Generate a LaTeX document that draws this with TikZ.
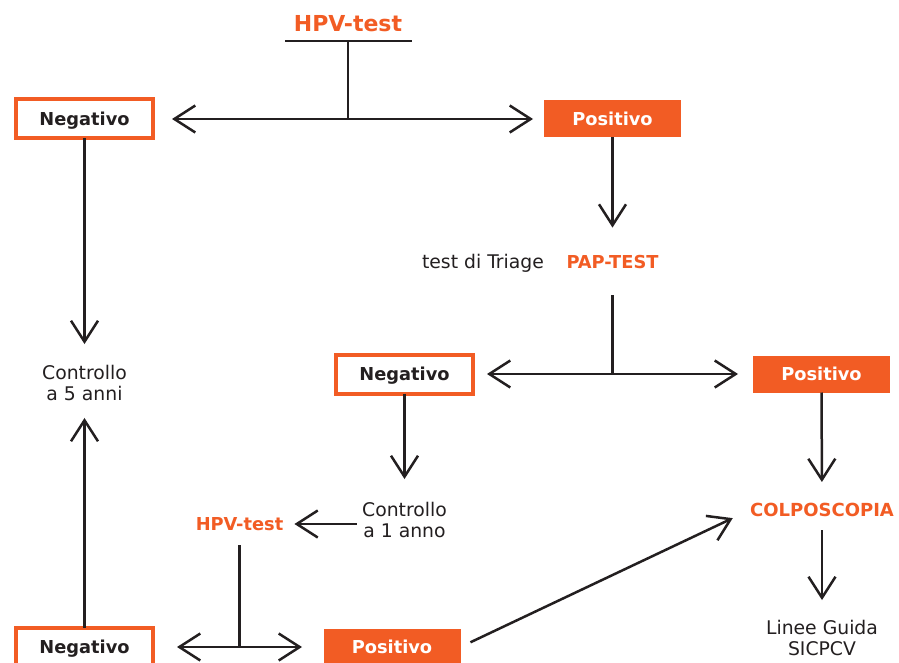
\documentclass[tikz,border=0pt]{standalone}
\usepackage{fontspec}
\setmainfont{DejaVu Sans}
\definecolor{HPVOrange}{RGB}{242, 92, 36}
\definecolor{HPVDark}{RGB}{35, 31, 32}
\usetikzlibrary{arrows.meta, positioning}

\begin{document}
\begin{tikzpicture}[x=1pt, y=-1pt,
    flow/.style={draw=HPVDark, line width=2.5pt},
    tip/.style={flow, -{Straight Barb[length=21pt, width=27pt]}},
    twotip/.style={flow, {Straight Barb[length=21pt, width=27pt]}-{Straight Barb[length=21pt, width=27pt]}},
    negbox/.style={draw=HPVOrange, line width=4pt, fill=white, text=HPVDark,
      minimum width=137pt, minimum height=39pt, inner sep=0pt, outer sep=0pt,
      text height=12.8pt, text depth=0pt,
      font=\fontsize{17.8}{21}\selectfont\bfseries},
    posbox/.style={fill=HPVOrange, text=white,
      minimum width=137pt, minimum height=37pt, inner sep=0pt, outer sep=0pt,
      text height=12.8pt, text depth=0pt,
      font=\fontsize{17.8}{21}\selectfont\bfseries},
    orangetxt/.style={text=HPVOrange, inner sep=0pt, font=\fontsize{17.8}{21}\selectfont\bfseries},
    plaintxt/.style={text=HPVDark, inner sep=0pt, align=center, font=\fontsize{18.8}{21}\selectfont}]
  \clip (0,0) rectangle (899,663);
  \fill[white] (0,0) rectangle (899,663);

  % first level
  \node[orangetxt, font=\fontsize{22}{26}\selectfont\bfseries] (hpv1) at (348,24) {HPV-test};
  \coordinate (ulL) at (285,41);
  \coordinate (ulR) at (412,41);
  \node[negbox] (neg1) at (84.5,119) {Negativo};
  \node[posbox] (pos1) at (612.5,119) {Positivo};
  \draw[flow] (ulL) -- (ulR);
  \draw[flow] (hpv1 |- ulL) -- (hpv1 |- pos1);
  \draw[twotip, shorten <=19pt, shorten >=11pt] (neg1) -- (pos1);

  % triage
  \node[plaintxt, anchor=base] (triage) at (483,268) {test di Triage};
  \node[orangetxt, anchor=base] (pap) at (612.5,268) {PAP-TEST};
  \draw[tip, shorten >=27pt] (pos1) -- (pap);
  \node[negbox] (neg2) at (404.5,374) {Negativo};
  \node[posbox] (pos2) at (821.5,374) {Positivo};
  \draw[flow, shorten <=27pt] (pap) -- (pap |- pos2);
  \draw[twotip, shorten <=14pt, shorten >=15pt] (neg2) -- (pos2);

  % left column
  \node[plaintxt] (c5) at (84.5,383) {Controllo\\a 5 anni};
  \draw[tip, shorten >=21pt] (neg1) -- (c5);

  % one year follow-up
  \node[plaintxt] (c1) at (404.5,520) {Controllo\\a 1 anno};
  \draw[tip, shorten >=23pt] (neg2) -- (c1);
  \node[orangetxt] (hpv2) at (239.5,524) {HPV-test};
  \draw[tip, shorten <=5pt, shorten >=11pt] (c1.west |- hpv2) -- (hpv2);
  \node[negbox] (neg3) at (84.5,647) {Negativo};
  \node[posbox] (pos3) at (392,647) {Positivo};
  \draw[flow, shorten <=14.5pt] (hpv2) -- (hpv2 |- pos3);
  \draw[twotip, shorten <=24pt, shorten >=21.5pt] (neg3) -- (pos3);
  \draw[tip, shorten >=17pt] (neg3) -- (c5);

  % right column
  \node[orangetxt, font=\fontsize{18}{22}\selectfont\bfseries] (colpo) at (822,510) {COLPOSCOPIA};
  \draw[tip, shorten >=21pt] (pos2) -- (colpo);
  \draw[tip, shorten <=11pt, shorten >=19pt] (pos3.east) -- (colpo.west);
  \node[plaintxt] (linee) at (822,638) {Linee Guida\\SICPCV};
  \draw[tip, shorten <=13pt, shorten >=20pt] (colpo) -- (linee);
\end{tikzpicture}
\end{document}
